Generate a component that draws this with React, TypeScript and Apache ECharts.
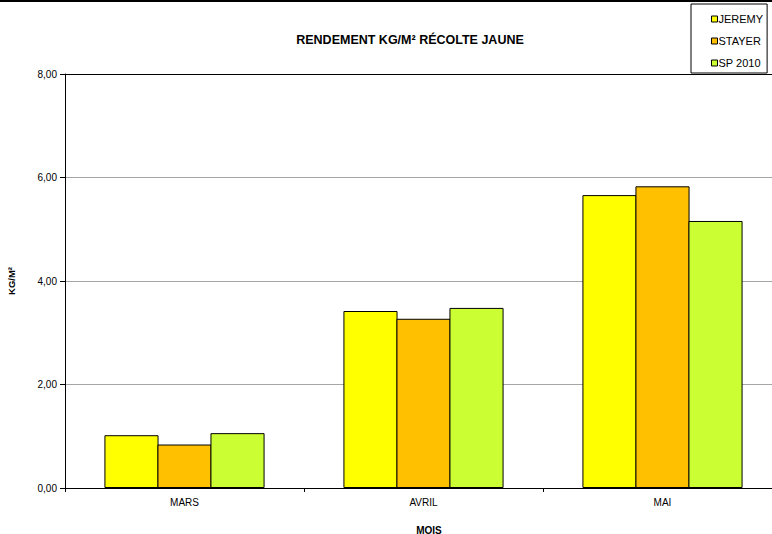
import React, { useEffect, useRef } from "react";
import * as echarts from "echarts";

const categories = ["MARS", "AVRIL", "MAI"];
const seriesNames = ["JEREMY", "STAYER", "SP 2010"];
const jeremy = [1.02, 3.42, 5.66];
const stayer = [0.84, 3.27, 5.83];
const sp2010 = [1.06, 3.48, 5.16];
const colors = ["#FFFF00", "#FFC000", "#CCFF33"];

export default function App() {
  const ref = useRef<HTMLDivElement>(null);
  useEffect(() => {
    if (!ref.current) return;
    const chart = echarts.init(ref.current, null, { renderer: "svg" });
    const font = "'Liberation Sans', Arial, sans-serif";
    const data = [jeremy, stayer, sp2010];
    chart.setOption({
      animation: false,
      backgroundColor: "#ffffff",
      textStyle: { fontFamily: font },
      title: {
        text: "RENDEMENT KG/M² RÉCOLTE JAUNE",
        left: 410,
        top: 33,
        padding: 0,
        textAlign: "center",
        textStyle: { fontFamily: font, fontSize: 12.5, fontWeight: "bold", color: "#000" },
      },
      legend: {
        orient: "vertical",
        left: 691,
        top: 4,
        width: 80,
        height: 67,
        padding: [9, 4, 4, 20],
        itemGap: 10,
        itemWidth: 6,
        itemHeight: 6,
        icon: "rect",
        borderColor: "#000",
        borderWidth: 1,
        backgroundColor: "#fff",
        textStyle: { fontFamily: font, fontSize: 11, lineHeight: 12, color: "#000", padding: [0, 0, 0, -4] },
        data: seriesNames.map((n, i) => ({
          name: n,
          itemStyle: { color: colors[i], borderColor: "#000", borderWidth: 1 },
        })),
      },
      graphic: [
        {
          type: "rect",
          shape: { x: 0, y: 0, width: 772, height: 2 },
          style: { fill: "#000" },
        },
      ],
      grid: {
        left: 65,
        top: 74,
        width: 717,
        height: 414,
        containLabel: false,
        outerBoundsMode: "none",
      },
      xAxis: [
        {
          type: "category",
          data: categories,
          name: "MOIS",
          nameLocation: "middle",
          nameGap: 37,
          nameTextStyle: { fontFamily: font, fontSize: 10, fontWeight: "bold", color: "#000", padding: [0, 0, 0, 11] },
          axisLine: { show: true, lineStyle: { color: "#000", width: 1 } },
          axisTick: { show: true, length: 4, lineStyle: { color: "#000" } },
          axisLabel: { fontFamily: font, fontSize: 10, color: "#000", margin: 9 },
        },
        {
          type: "category",
          data: categories,
          position: "top",
          axisLine: { show: true, lineStyle: { color: "#000", width: 1 } },
          axisTick: { show: false },
          axisLabel: { show: false },
        },
      ],
      yAxis: {
        type: "value",
        min: 0,
        max: 8,
        interval: 2,
        name: "KG/M²",
        nameLocation: "middle",
        nameGap: 49,
        nameRotate: 90,
        nameTextStyle: { fontFamily: font, fontSize: 9.5, fontWeight: "bold", color: "#000" },
        axisLine: { show: true, lineStyle: { color: "#000", width: 1 } },
        axisTick: { show: true, length: 5, lineStyle: { color: "#000" } },
        axisLabel: {
          fontFamily: font,
          fontSize: 10,
          color: "#000",
          margin: 8,
          formatter: (v: number) => v.toFixed(2).replace(".", ","),
        },
        splitLine: { show: true, lineStyle: { color: "#a6a6a6", width: 1 } },
      },
      series: seriesNames.map((name, i) => ({
        name,
        type: "bar",
        xAxisIndex: 0,
        data: data[i],
        barGap: "-2%",
        barCategoryGap: "33%",
        itemStyle: { color: colors[i], borderColor: "#000", borderWidth: 1 },
      })),
    });
    return () => chart.dispose();
  }, []);
  return (
    <div
      ref={ref}
      style={{ position: "fixed", left: 0, top: 0, width: 772, height: 534 }}
    />
  );
}
